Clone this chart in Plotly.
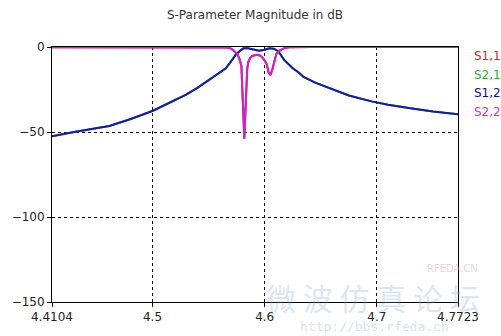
import plotly.graph_objects as go

# S2,1 / S1,2 (transmission) magnitude in dB
freq_t = [4.4104, 4.43, 4.4615, 4.48, 4.5004, 4.515, 4.530, 4.540, 4.550, 4.558,
          4.5654, 4.570, 4.574, 4.5775, 4.581, 4.585, 4.590, 4.595, 4.600, 4.604,
          4.608, 4.6121, 4.6173, 4.6191, 4.625, 4.6303, 4.6346, 4.645, 4.6606,
          4.675, 4.6952, 4.71, 4.7299, 4.75, 4.7723]
s21 = [-52.5, -50, -46.5, -42.5, -37.5, -33, -28, -24, -19.5, -16,
       -12.5, -8.5, -4.7, -2.5, -0.8, -0.7, -1.6, -2.2, -1.6, -0.7,
       -1.0, -2.5, -7.6, -8.8, -12.5, -15, -17.6, -21, -25,
       -28.5, -32, -34, -36, -38, -39.5]
s12 = list(s21)

# S1,1 / S2,2 (reflection) magnitude in dB
freq_r = [4.4104, 4.55, 4.565, 4.5697, 4.5723, 4.5758, 4.5775, 4.5792, 4.5801,
          4.5810, 4.5818, 4.5827, 4.5836, 4.5844, 4.5853, 4.5870, 4.5888, 4.5914,
          4.5931, 4.5957, 4.5974, 4.6000, 4.6017, 4.6035, 4.6052, 4.6069, 4.6087,
          4.6104, 4.6130, 4.6147, 4.6173, 4.6217, 4.64, 4.7723]
s22 = [-0.1, -0.1, -0.3, -0.8, -2, -4.5, -7, -11, -22,
       -40, -54, -36, -20, -13, -9, -6.5, -5.3, -4.7,
       -4.6, -5, -5.8, -8, -10, -15, -16.5, -13, -7.5,
       -4, -2.3, -1.5, -0.7, -0.2, -0.05, -0.05]
s11 = list(s22)

x_tickvals = [4.4104, 4.5, 4.6, 4.7, 4.7723]
x_ticktext = ["4.4104", "4.5", "4.6", "4.7", "4.7723"]
y_tickvals = [0, -50, -100, -150]

legend_names = ["S1,1", "S2,1", "S1,2", "S2,2"]
legend_colors = ["#d02828", "#2fae2f", "#10107a", "#cc33cc"]

font = "DejaVu Sans"
fig = go.Figure()
fig.add_trace(go.Scatter(x=freq_r, y=s11, mode="lines", line=dict(color="#d02828", width=2), name="S1,1"))
fig.add_trace(go.Scatter(x=freq_t, y=s21, mode="lines", line=dict(color="#2fae2f", width=2), name="S2,1"))
fig.add_trace(go.Scatter(x=freq_t, y=s12, mode="lines", line=dict(color="#1a1aa0", width=2), name="S1,2"))
fig.add_trace(go.Scatter(x=freq_r, y=s22, mode="lines", line=dict(color="#cc22cc", width=2), name="S2,2"))

for i, (nm, col) in enumerate(zip(legend_names, legend_colors)):
    fig.add_annotation(xref="paper", yref="paper", x=1.0, y=1.0, xanchor="left", yanchor="middle",
                       xshift=14, yshift=-9 - 18.5 * i, text=nm, showarrow=False,
                       font=dict(family=font, size=12, color=col))

# faint watermark
fig.add_annotation(xref="paper", yref="paper", x=0.986, y=0.133, xanchor="center", yanchor="middle",
                   text="RFEDA.CN", showarrow=False,
                   font=dict(family=font, size=10, color="rgba(240,150,140,0.45)"))
fig.add_annotation(xref="paper", yref="paper", x=0.79, y=0.02, xanchor="center", yanchor="middle",
                   text="微 波 仿 真 论 坛", showarrow=False,
                   font=dict(family="Noto Sans CJK SC", size=30, color="rgba(120,170,220,0.3)"))
fig.add_annotation(xref="paper", yref="paper", x=0.794, y=-0.098, xanchor="center", yanchor="middle",
                   text="http://bbs.rfeda.cn", showarrow=False,
                   font=dict(family="DejaVu Sans Mono", size=13, color="rgba(120,170,220,0.35)"))

fig.update_layout(
    width=501, height=336,
    margin=dict(l=41, r=43, t=47, b=34),
    paper_bgcolor="white", plot_bgcolor="white",
    showlegend=False,
    title=dict(text="S-Parameter Magnitude in dB", x=0.5, xref="paper", y=0.955, yanchor="middle",
               font=dict(family=font, size=12, color="#333333")),
    font=dict(family=font, size=12, color="#222222"),
)
fig.update_xaxes(range=[4.4104, 4.7723], tickmode="array", tickvals=x_tickvals, ticktext=x_ticktext,
                 showgrid=True, gridcolor="black", griddash="3px,3px", gridwidth=1,
                 showline=True, linecolor="black", linewidth=1, mirror=True,
                 ticks="outside", ticklen=4, tickcolor="black", zeroline=False)
fig.update_yaxes(range=[-150, 0], tickmode="array", tickvals=y_tickvals,
                 showgrid=True, gridcolor="black", griddash="3px,3px", gridwidth=1,
                 showline=True, linecolor="black", linewidth=1, mirror=True,
                 ticks="outside", ticklen=4, tickcolor="black", zeroline=False)

fig.write_html("out.html")
